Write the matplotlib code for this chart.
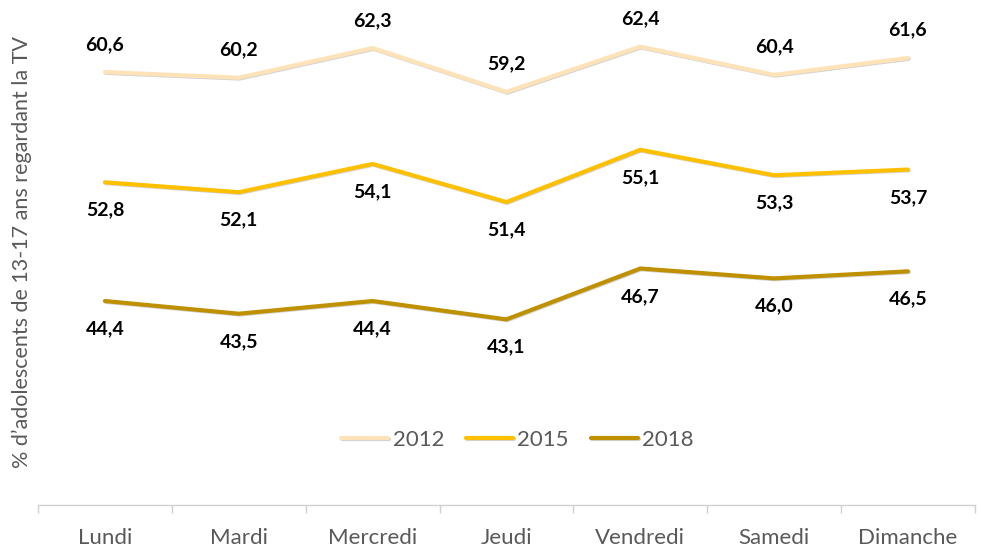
import matplotlib.pyplot as plt
import matplotlib.patheffects as pe

days = ["Lundi", "Mardi", "Mercredi", "Jeudi", "Vendredi", "Samedi", "Dimanche"]
v2012 = [60.6, 60.2, 62.3, 59.2, 62.4, 60.4, 61.6]
v2015 = [52.8, 52.1, 54.1, 51.4, 55.1, 53.3, 53.7]
v2018 = [44.4, 43.5, 44.4, 43.1, 46.7, 46.0, 46.5]

series = [
    ("2012", v2012, "#FFE3B8", 1),
    ("2015", v2015, "#FFC000", -1),
    ("2018", v2018, "#BF9000", -1),
]

plt.rcParams['font.family'] = ['Lato', 'DejaVu Sans']

fig = plt.figure(figsize=(9.83, 5.49), dpi=100)
ax = fig.add_axes([0.0387, 0.081, 0.953, 0.901])

x = list(range(len(days)))
shadow = [pe.SimpleLineShadow(offset=(0.6, -0.6), shadow_color="#808080", alpha=0.35), pe.Normal()]
for name, vals, col, side in series:
    ax.plot(x, vals, color=col, lw=3, label=name, solid_capstyle="round",
            solid_joinstyle="miter", path_effects=shadow)
    for xi, v in zip(x, vals):
        ax.annotate(f"{v:.1f}".replace(".", ","), (xi, v), xytext=(0, 20 * side),
                    textcoords="offset points", ha="center", va="center",
                    fontsize=14, fontweight="bold", color="black")

ax.set_xlim(-0.5, 6.5)
ax.set_ylim(30, 65)
ax.set_yticks([])
ax.set_xticks(x)
ax.set_xticklabels(days, fontsize=16, color="#595959")
ax.set_xticks([i - 0.5 for i in range(8)], minor=True)
ax.tick_params(axis="x", which="major", length=0, pad=17)
ax.tick_params(axis="x", which="minor", length=6, color="#D0D0D0", width=1)
for s in ["top", "right", "left"]:
    ax.spines[s].set_visible(False)
ax.spines["bottom"].set_color("#D0D0D0")
ax.spines["bottom"].set_linewidth(1)

leg = ax.legend(loc="center", bbox_to_anchor=(0.512, 0.131), ncol=3, frameon=False,
                fontsize=16, handlelength=2.1, columnspacing=1.0, handletextpad=0.2)
for t in leg.get_texts():
    t.set_color("#595959")

fig.text(0.022, 0.541, "% d’adolescents de 13-17 ans regardant la TV", rotation=90,
         ha="center", va="center", fontsize=15.5, color="#595959")

fig.savefig("out.png", dpi=100)
